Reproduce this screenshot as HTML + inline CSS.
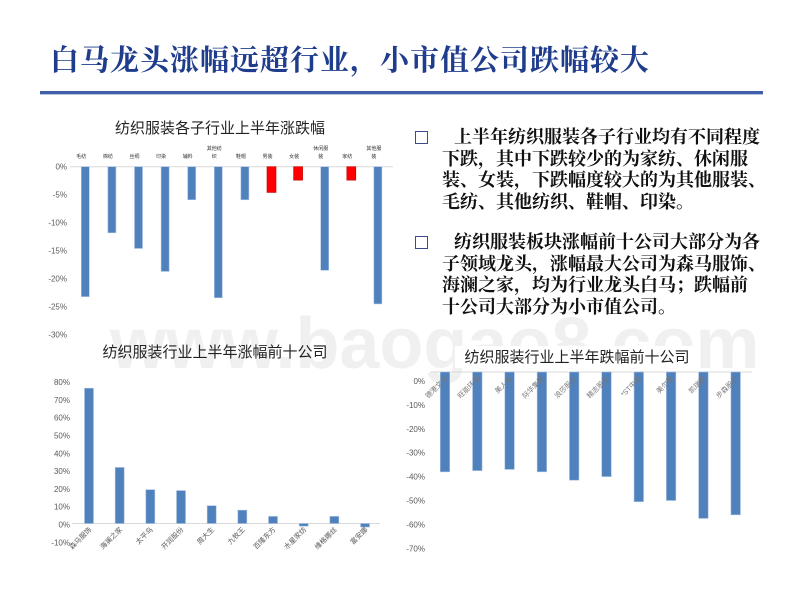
<!DOCTYPE html>
<html><head><meta charset="utf-8"><style>
body{margin:0;width:800px;height:607px;background:#fff;overflow:hidden;font-family:"Liberation Sans","Noto Sans CJK SC",sans-serif;}
#wrap{position:relative;width:800px;height:607px;}
.title{position:absolute;left:50px;top:38px;font-family:"Liberation Serif","Noto Serif CJK SC",serif;font-size:29px;color:#1f3d8c;letter-spacing:1px;white-space:nowrap;font-weight:bold;}
.rule{position:absolute;left:40px;top:91px;width:723px;height:3px;background:#3f5fa8;border-bottom:1px solid #b8c6e4;}
.para{position:absolute;left:414px;width:352px;font-family:"Liberation Serif","Noto Serif CJK SC",serif;font-size:18px;line-height:21.7px;color:#111;font-weight:bold;}
.para .box{position:absolute;left:1px;top:4px;width:11px;height:11px;border:1px solid #3a4a8a;}
.para .t{margin-left:28px;text-indent:12px;}
</style></head><body><div id="wrap">
<svg width="800" height="607" style="position:absolute;left:0;top:0"><text x="110" y="368" font-size="72" fill="#f0f0f0" font-family="Liberation Sans" font-weight="bold">www.baogao8.com</text></svg>
<div class="title">白马龙头涨幅远超行业，小市值公司跌幅较大</div>
<div class="rule"></div>
<div class="para" style="top:127px"><div class="box"></div><div class="t">上半年纺织服装各子行业均有不同程度下跌，其中下跌较少的为家纺、休闲服装、女装，下跌幅度较大的为其他服装、毛纺、其他纺织、鞋帽、印染。</div></div>
<div class="para" style="top:232px"><div class="box"></div><div class="t">纺织服装板块涨幅前十公司大部分为各子领域龙头，涨幅最大公司为森马服饰、海澜之家，均为行业龙头白马；跌幅前<br>十公司大部分为小市值公司。</div></div>
<svg id="c" width="800" height="607" style="position:absolute;left:0;top:0"></svg>
</div>
<script>
const c1Cats=["毛纺","棉纺","丝绸","印染","辅料","其他纺织","鞋帽","男装","女装","休闲服装","家纺","其他服装"];
const c1Vals=[-23.2,-11.8,-14.6,-18.7,-5.9,-23.4,-5.9,-4.6,-2.4,-18.5,-2.4,-24.5];
const c1Red=[0,0,0,0,0,0,0,1,1,0,1,0];
const c1Ticks=[0,-5,-10,-15,-20,-25,-30];
const c2Cats=["森马服饰","海澜之家","太平鸟","开润股份","周大生","九牧王","百隆东方","水星家纺","维格娜丝","富安娜"];
const c2Vals=[76,31.5,19,18.5,10,7.5,4,-1.5,4,-2];
const c2Ticks=[80,70,60,50,40,30,20,10,0,-10];
const c3Cats=["德港文化","旺能环保","美人鱼","际华集团","浪莎股份","精志股份","*ST中绒","美尔雅","凯瑞德","步森股份"];
const c3Vals=[-38,-37.5,-37,-38,-41.5,-40,-50.5,-50,-57.5,-56];
const c3Ticks=[0,-10,-20,-30,-40,-50,-60,-70];
const svg=document.getElementById('c');const NS="http://www.w3.org/2000/svg";
function mk(t,a,txt){const e=document.createElementNS(NS,t);for(const k in a)e.setAttribute(k,a[k]);if(txt!==undefined)e.textContent=txt;svg.appendChild(e);return e;}
const blue="#4f81bd";
// chart 1
const y1=v=>166.7-v*5.6, x1=i=>85.3+i*26.6;
let e=mk('text',{x:220,y:133,'font-size':15,'text-anchor':'middle',fill:'#222'},'纺织服装各子行业上半年涨跌幅');


c1Ticks.forEach(t=>{e=mk('text',{x:67,y:y1(t)+3,'font-size':8,'text-anchor':'end',fill:'#595959'},t+'%');

});
e=mk('line',{x1:70,x2:393,y1:y1(0),y2:y1(0),stroke:'#d9d9d9','stroke-width':1});


c1Vals.forEach((v,i)=>{const red=c1Red[i];const w=red?9:8;
e=mk('rect',{x:x1(i)-w/2,y:y1(0),width:w,height:y1(v)-y1(0),fill:red?'#ff0000':blue,stroke:red?'#c00000':'#a8c0e0','stroke-width':0.6});


const n=c1Cats[i];const lx=x1(i)-4;
if(n.length>2){mk('text',{x:lx,y:150,'font-size':5,'text-anchor':'middle',fill:'#333'},n.slice(0,3));mk('text',{x:lx,y:158,'font-size':5,'text-anchor':'middle',fill:'#333'},n.slice(3));}
else{e=mk('text',{x:lx,y:158,'font-size':5,'text-anchor':'middle',fill:'#333'},n);

}});
// chart 2
const y2=v=>523.5-v*1.78, x2=i=>89+i*30.67;
e=mk('text',{x:215,y:357,'font-size':15,'text-anchor':'middle',fill:'#222'},'纺织服装行业上半年涨幅前十公司');


c2Ticks.forEach(t=>{e=mk('text',{x:70,y:y2(t)+4,'font-size':8,'text-anchor':'end',fill:'#595959'},t+'%');

});
e=mk('line',{x1:72,x2:380,y1:y2(0),y2:y2(0),stroke:'#d9d9d9'});


c2Vals.forEach((v,i)=>{const a=Math.min(y2(v),y2(0)),b=Math.max(y2(v),y2(0));
e=mk('rect',{x:x2(i)-4.5,y:a,width:9,height:b-a,fill:blue,stroke:'#a8c0e0','stroke-width':0.6});


e=mk('text',{x:x2(i)+3,y:530,'font-size':7,'text-anchor':'end',fill:'#595959',transform:`rotate(-45 ${x2(i)+3} 530)`},c2Cats[i]);

});
// chart 3
const y3=v=>381-v*2.39, x3=i=>445+i*32.3;
e=mk('rect',{x:455,y:346,width:245,height:22,fill:'#fff'});
e=mk('text',{x:577,y:362,'font-size':15,'text-anchor':'middle',fill:'#222'},'纺织服装行业上半年跌幅前十公司');


e=mk('line',{x1:430,x2:752,y1:372,y2:372,stroke:'#d9d9d9'});


c3Ticks.forEach(t=>{e=mk('text',{x:425,y:y3(t)+3,'font-size':8,'text-anchor':'end',fill:'#595959'},t+'%');

});
c3Vals.forEach((v,i)=>{e=mk('rect',{x:x3(i)-4.75,y:372,width:9.5,height:y3(v)-372,fill:blue,stroke:'#a8c0e0','stroke-width':0.6});

});
c3Vals.forEach((v,i)=>{e=mk('text',{x:x3(i)+3,y:379,'font-size':7,'text-anchor':'end',fill:'#777',transform:`rotate(-45 ${x3(i)+3} 379)`},c3Cats[i]);

});
</script></body></html>
